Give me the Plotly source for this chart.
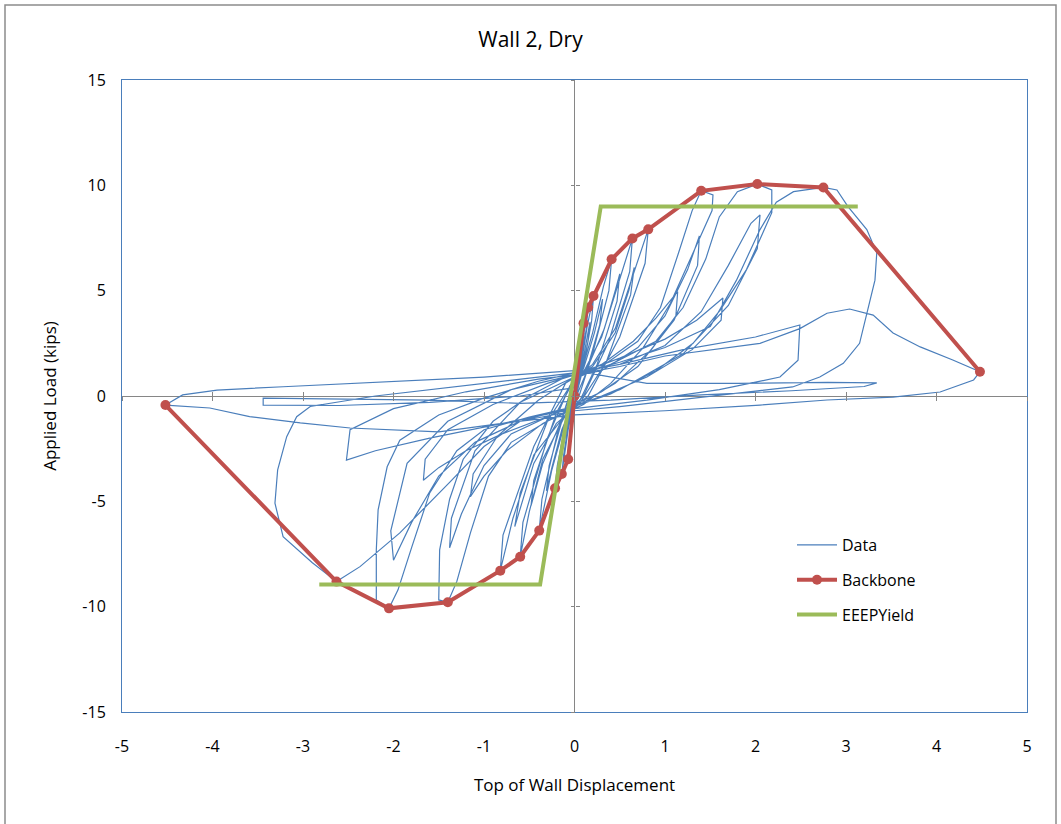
import plotly.graph_objects as go

# ---------------- data ----------------
title_text = "Wall 2, Dry"
x_title = "Top of Wall Displacement"
y_title = "Applied Load (kips)"
x_ticks = [-5, -4, -3, -2, -1, 0, 1, 2, 3, 4, 5]
y_ticks = [-15, -10, -5, 0, 5, 10, 15]
x_tick_labels = ["-5", "-4", "-3", "-2", "-1", "0", "1", "2", "3", "4", "5"]
y_tick_labels = ["-15", "-10", "-5", "0", "5", "10", "15"]

# Backbone (envelope) points
backbone_x = [-4.52, -2.63, -2.05, -1.40, -0.82, -0.60, -0.39, -0.215, -0.14, -0.07, 0.0,
              0.10, 0.15, 0.21, 0.41, 0.64, 0.815, 1.40, 2.02, 2.75, 4.48]
backbone_y = [-0.43, -8.81, -10.08, -9.79, -8.29, -7.63, -6.39, -4.38, -3.7, -3.0, 0.0,
              3.45, 4.2, 4.75, 6.49, 7.48, 7.91, 9.74, 10.06, 9.9, 1.15]

# EEEP yield curve
eeep_x = [-2.82, -0.38, 0.29, 3.13]
eeep_y = [-8.95, -8.95, 9.0, 9.0]

# Hysteresis data, one list of (displacement, load) per cycle
cycle01 = [(0, 0), (0.03, 1.2), (0.06, 2.2), (0.08, 2.8), (0.07, 2.2), (0.02, 0.6), (-0.02, -0.6),
           (-0.05, -1.8), (-0.06, -2.4), (-0.05, -1.9), (0, -0.2)]
cycle02 = [(0.03, 0.9), (0.07, 2.5), (0.10, 3.45), (0.09, 2.7), (0.04, 1.0), (0.0, 0.0), (-0.04, -1.4),
           (-0.07, -3.0), (-0.06, -2.3), (-0.01, -0.4)]
cycle03 = [(0.05, 1.0), (0.10, 2.9), (0.15, 4.2), (0.13, 3.2), (0.06, 1.1), (0, -0.2), (-0.07, -1.6),
           (-0.14, -3.7), (-0.12, -2.8), (-0.04, -0.6)]
cycle04 = [(0.04, 0.8), (0.09, 2.3), (0.12, 3.0), (0.10, 2.2), (0.03, 0.5), (-0.04, -0.7), (-0.09, -2.2),
           (-0.11, -2.7), (-0.09, -1.9), (-0.02, -0.2)]
cycle05 = [(0.06, 1.1), (0.14, 3.3), (0.21, 4.75), (0.19, 3.6), (0.1, 1.4), (0.0, -0.3), (-0.1, -1.8),
           (-0.215, -4.38), (-0.19, -3.3), (-0.08, -0.9)]
cycle06 = [(0.06, 0.9), (0.13, 2.6), (0.17, 3.5), (0.15, 2.6), (0.05, 0.6), (-0.06, -0.9), (-0.13, -2.5),
           (-0.17, -3.3), (-0.15, -2.4), (-0.04, -0.2)]
cycle07 = [(0.08, 1.2), (0.2, 3.0), (0.32, 5.2), (0.41, 6.49), (0.38, 5.0), (0.2, 2.0), (0.05, 0.0),
           (-0.1, -1.2), (-0.25, -3.5), (-0.39, -6.39), (-0.36, -4.9), (-0.18, -1.6), (-0.03, 0.4)]
cycle08 = [(0.1, 1.3), (0.22, 3.0), (0.31, 4.6), (0.28, 3.4), (0.12, 1.0), (-0.02, -0.4), (-0.14, -1.6),
           (-0.25, -3.4), (-0.31, -4.5), (-0.28, -3.3), (-0.1, -0.6), (0.0, 0.6)]
cycle09 = [(0.12, 1.3), (0.3, 2.8), (0.5, 5.5), (0.64, 7.48), (0.61, 5.9), (0.38, 2.6), (0.1, 0.0),
           (-0.1, -0.9), (-0.35, -3.0), (-0.5, -5.5), (-0.60, -7.63), (-0.57, -6.0), (-0.3, -2.0),
           (-0.05, 0.5)]
cycle10 = [(0.15, 1.4), (0.33, 3.2), (0.45, 5.0), (0.5, 5.8), (0.47, 4.5), (0.25, 1.5), (0.05, -0.3),
           (-0.15, -1.2), (-0.35, -3.2), (-0.48, -5.2), (-0.45, -4.0), (-0.2, -0.8), (0.0, 0.8)]
cycle11 = [(0.2, 1.5), (0.45, 3.2), (0.65, 5.8), (0.815, 7.91), (0.78, 6.3), (0.5, 2.8), (0.15, 0.0),
           (-0.1, -0.9), (-0.45, -2.8), (-0.68, -5.8), (-0.82, -8.29), (-0.79, -6.6), (-0.45, -2.4),
           (-0.1, 0.6)]
cycle12 = [(0.2, 1.4), (0.45, 3.0), (0.6, 5.0), (0.66, 6.1), (0.62, 4.8), (0.35, 1.6), (0.05, -0.4),
           (-0.2, -1.3), (-0.45, -3.2), (-0.62, -5.6), (-0.66, -6.2), (-0.6, -4.6), (-0.3, -1.2),
           (0.0, 0.8)]
cycle13 = [(0.3, 1.4), (0.7, 2.6), (0.95, 4.2), (1.15, 6.8), (1.3, 8.8), (1.40, 9.74), (1.53, 9.54),
           (1.52, 8.8), (1.31, 6.8), (1.06, 4.4), (0.76, 2.3), (0.4, 0.6), (0.1, -0.4), (-0.3, -1.2),
           (-0.7, -2.2), (-0.95, -3.8), (-1.15, -6.5), (-1.3, -8.8), (-1.40, -9.79), (-1.5, -9.68),
           (-1.49, -7.3), (-1.38, -4.9), (-1.23, -3.0), (-0.9, -1.2), (-0.5, 0.0), (-0.1, 0.9)]
cycle14 = [(0.3, 1.2), (0.7, 2.3), (1.0, 3.8), (1.25, 6.0), (1.38, 7.6), (1.36, 6.2), (1.1, 3.6),
           (0.7, 1.4), (0.3, 0.2), (-0.2, -0.8), (-0.7, -1.8), (-1.0, -3.3), (-1.25, -5.6),
           (-1.38, -7.2), (-1.36, -5.8), (-1.1, -2.6), (-0.6, -0.3), (0.0, 0.9)]
cycle15 = [(0.3, 1.5), (0.65, 2.6), (0.9, 3.7), (1.14, 4.95), (1.12, 3.8), (0.85, 2.2), (0.45, 0.6),
           (0.1, -0.3), (-0.35, -1.3), (-0.75, -2.6), (-1.0, -3.8), (-1.15, -4.78), (-1.12, -3.7),
           (-0.85, -1.9), (-0.4, -0.2), (0.0, 0.9)]
cycle16 = [(0.4, 1.5), (0.9, 2.6), (1.2, 4.2), (1.45, 6.5), (1.6, 8.5), (1.8, 9.7), (2.02, 10.06),
           (2.18, 9.78), (2.18, 8.7), (1.9, 6.0), (1.61, 4.08), (1.31, 2.5), (0.9, 1.2), (0.4, 0.1),
           (0.0, -0.5), (-0.5, -1.0), (-1.0, -1.6), (-1.3, -2.6), (-1.6, -4.6), (-1.8, -7.2),
           (-1.95, -9.2), (-2.05, -10.08), (-2.19, -9.68), (-2.19, -7.3), (-2.17, -5.4),
           (-2.07, -3.36), (-1.93, -2.1), (-1.5, -0.9), (-1.0, -0.1), (-0.4, 0.7), (0.0, 1.1)]
cycle17 = [(0.5, 1.5), (1.0, 2.4), (1.4, 4.0), (1.7, 6.2), (1.95, 8.2), (2.05, 8.6), (2.02, 7.0),
           (1.7, 4.3), (1.2, 2.0), (0.5, 0.3), (0.0, -0.5), (-0.6, -1.2), (-1.1, -2.2), (-1.5, -3.8),
           (-1.8, -6.0), (-2.0, -7.8), (-2.03, -6.4), (-1.85, -3.2), (-1.4, -1.2), (-0.7, 0.3),
           (0.0, 1.0)]
cycle18 = [(0.5, 1.8), (1.0, 2.7), (1.35, 3.6), (1.64, 4.65), (1.62, 3.6), (1.3, 2.2), (0.8, 0.9),
           (0.3, 0.0), (-0.3, -1.0), (-0.8, -1.8), (-1.2, -2.6), (-1.5, -3.4), (-1.67, -4.0),
           (-1.65, -3.0), (-1.4, -1.6), (-0.9, -0.4), (-0.3, 0.6), (0.0, 1.0)]
cycle19 = [(0.5, 1.6), (1.0, 2.3), (1.5, 3.3), (1.79, 5.5), (2.05, 7.9), (2.23, 9.2), (2.42, 9.7),
           (2.75, 9.9), (2.9, 9.78), (3.02, 9.0), (3.23, 7.9), (3.34, 6.8), (3.32, 5.5), (3.23, 3.9),
           (3.15, 2.5), (2.97, 1.55), (2.71, 0.9), (2.41, 0.43), (1.5, 0.0), (0.5, -0.5), (0.0, -0.7),
           (-0.6, -1.2), (-1.0, -2.4), (-1.38, -4.1), (-1.93, -6.5), (-2.37, -8.1), (-2.63, -8.81),
           (-2.9, -7.9), (-3.22, -6.68), (-3.31, -5.09), (-3.28, -3.5), (-3.18, -1.93), (-3.07, -0.98),
           (-2.92, -0.5), (-2.2, 0.0), (-1.2, 0.5), (-0.4, 0.9), (0.0, 1.1)]
cycle20 = [(0.5, 1.5), (1.2, 2.2), (2.0, 2.8), (2.49, 3.37), (2.47, 1.7), (2.27, 0.9), (1.6, 0.3),
           (0.8, -0.2), (0.0, -0.6), (-0.8, -1.3), (-1.6, -2.0), (-2.2, -2.6), (-2.52, -3.04),
           (-2.48, -1.6), (-2.0, -0.6), (-1.2, 0.2), (-0.4, 0.8), (0.0, 1.0)]
cycle21 = [(0.5, 1.4), (1.0, 1.9), (1.5, 2.2), (2.05, 2.5), (2.49, 3.2), (2.79, 3.93), (3.04, 4.13),
           (3.3, 3.84), (3.52, 2.99), (3.82, 2.33), (4.18, 1.71), (4.48, 1.15), (4.41, 0.76),
           (4.04, 0.19), (3.52, -0.05), (2.79, -0.19), (2.05, -0.43), (1.0, -0.7), (0.0, -0.9),
           (-0.8, -1.3), (-1.5, -1.7), (-2.48, -1.52), (-3.03, -1.28), (-3.59, -0.98), (-4.03, -0.57),
           (-4.52, -0.43), (-4.33, 0.05), (-3.95, 0.28), (-3.22, 0.44), (-2.12, 0.68), (-1.0, 0.9),
           (0.0, 1.2)]
cycle22 = [(0.8, 0.6), (1.8, 0.6), (2.8, 0.65), (3.34, 0.62), (3.2, 0.45), (2.4, 0.25), (1.4, 0.05),
           (0.4, -0.2), (-0.6, -0.35), (-1.6, -0.2), (-2.6, -0.15), (-3.44, -0.1), (-3.44, -0.43),
           (-2.6, -0.45), (-1.6, -0.3), (-0.6, 0.0), (0.0, 0.4)]

cycles = [cycle01, cycle02, cycle03, cycle04, cycle05, cycle06, cycle07, cycle08, cycle09, cycle10,
          cycle11, cycle12, cycle13, cycle14, cycle15, cycle16, cycle17, cycle18, cycle19, cycle20,
          cycle21, cycle22]
data_x = [p[0] for c in cycles for p in c]
data_y = [p[1] for c in cycles for p in c]

# ---------------- figure ----------------
BLUE = "#4A7EBB"
RED = "#C0504D"
GREEN = "#9BBB59"
GRAY = "#868686"
FONT = "Open Sans"

fig = go.Figure()
fig.add_trace(go.Scatter(x=data_x, y=data_y, mode="lines", name="Data",
                         line=dict(color=BLUE, width=1.2), legendgroup="a"))
fig.add_trace(go.Scatter(x=backbone_x, y=backbone_y, mode="lines+markers", name="Backbone",
                         line=dict(color=RED, width=4), marker=dict(size=10, color=RED),
                         legendgroup="b"))
fig.add_trace(go.Scatter(x=eeep_x, y=eeep_y, mode="lines", name="EEEPYield",
                         line=dict(color=GREEN, width=4), legendgroup="c"))
# empty helper traces so the cross-tick axes render
fig.add_trace(go.Scatter(x=[], y=[], xaxis="x2", yaxis="y", showlegend=False))
fig.add_trace(go.Scatter(x=[], y=[], xaxis="x3", yaxis="y", showlegend=False))
fig.add_trace(go.Scatter(x=[], y=[], xaxis="x", yaxis="y2", showlegend=False))
fig.add_trace(go.Scatter(x=[], y=[], xaxis="x", yaxis="y3", showlegend=False))

L, R, T, B = 122, 34, 80, 112
W, H = 1061, 824
pw, ph = W - L - R, H - T - B

tick_ax = dict(showgrid=False, zeroline=False, showline=False, showticklabels=False,
               ticklen=4, tickwidth=1, tickcolor=GRAY)

fig.update_layout(
    width=W, height=H,
    margin=dict(l=L, r=R, t=T, b=B),
    paper_bgcolor="white", plot_bgcolor="white",
    font=dict(family=FONT, color="#000000", size=16),
    title=dict(text=title_text, x=0.5, xanchor="center", y=1 - 40 / H, yanchor="middle",
               font=dict(size=21, family=FONT)),
    showlegend=True,
    legend=dict(x=(792 - L) / pw, y=(712 - 528) / ph, xanchor="left", yanchor="top",
                bgcolor="rgba(0,0,0,0)", font=dict(size=16, family=FONT),
                tracegroupgap=11, itemwidth=40),
    xaxis=dict(range=[-5, 5], tickvals=x_ticks, ticktext=x_tick_labels, showgrid=False,
               zeroline=True, zerolinecolor=GRAY, zerolinewidth=1,
               showline=True, linecolor=BLUE, linewidth=1, mirror=True,
               ticks="", ticklabelstandoff=20, tickfont=dict(size=16),
               title=dict(text=x_title, standoff=22, font=dict(size=17))),
    yaxis=dict(range=[-15, 15], tickvals=y_ticks, ticktext=y_tick_labels, showgrid=False,
               zeroline=True, zerolinecolor=GRAY, zerolinewidth=1,
               showline=True, linecolor=BLUE, linewidth=1, mirror=True,
               ticks="", ticklabelstandoff=12, tickfont=dict(size=16),
               title=dict(text=y_title, standoff=21, font=dict(size=17))),
    xaxis2=dict(tick_ax, overlaying="x", anchor="free", position=0.5, range=[-5, 5],
                tickvals=x_ticks, ticks="outside", side="bottom"),
    xaxis3=dict(tick_ax, overlaying="x", anchor="free", position=0.5, range=[-5, 5],
                tickvals=x_ticks, ticks="inside", side="bottom"),
    yaxis2=dict(tick_ax, overlaying="y", anchor="free", position=0.5, range=[-15, 15],
                tickvals=y_ticks, ticks="outside", side="left"),
    yaxis3=dict(tick_ax, overlaying="y", anchor="free", position=0.5, range=[-15, 15],
                tickvals=y_ticks, ticks="inside", side="left"),
    shapes=[dict(type="rect", xref="paper", yref="paper",
                 x0=(5 - L) / pw, x1=(1056 - L) / pw,
                 y0=(712 - 830) / ph, y1=(712 - 5) / ph,
                 line=dict(color="#8C8C8C", width=1.5), fillcolor="rgba(0,0,0,0)", layer="below")],
)

fig.write_html("out.html", config={"displayModeBar": False},
               post_script="document.body.style.margin='0';")
